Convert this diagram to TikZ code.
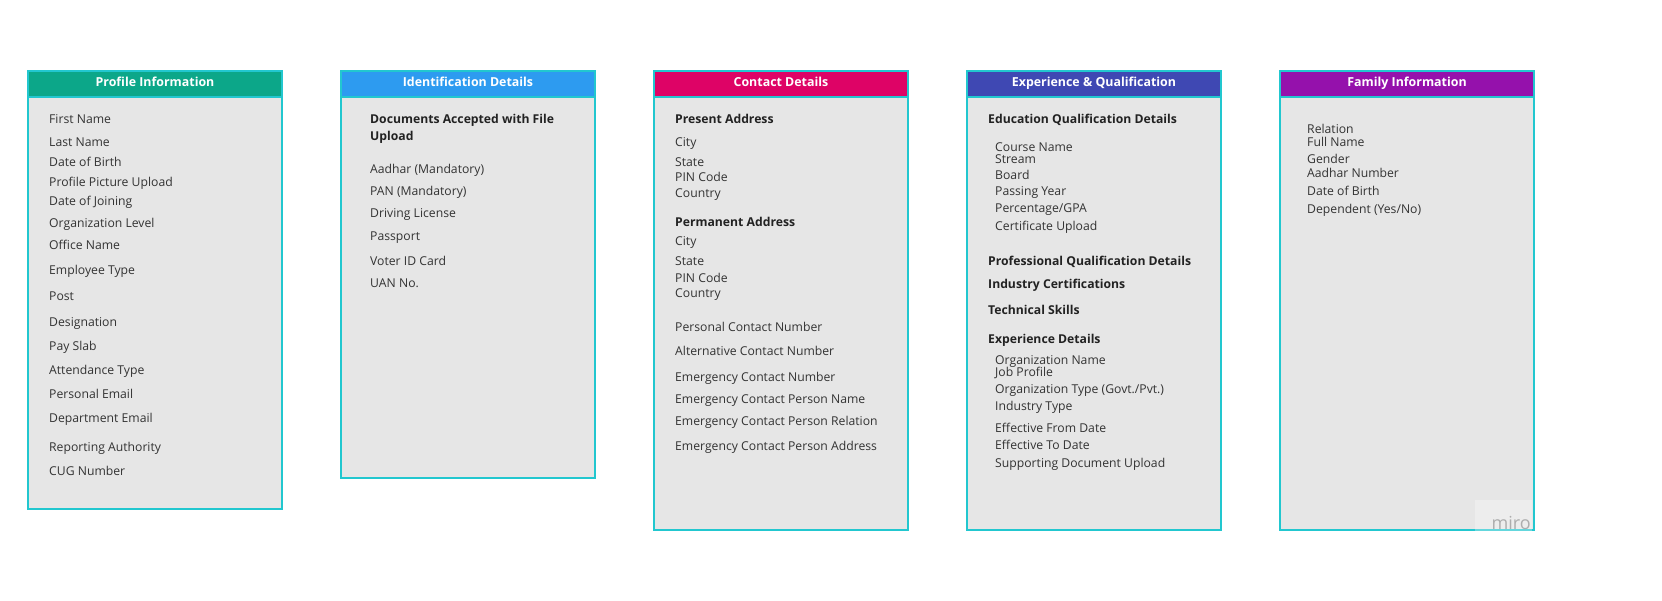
\documentclass[tikz,border=0pt]{standalone}
\usepackage{fontspec}
\setmainfont{Open Sans}
\definecolor{bordercol}{HTML}{22C7CF}
\definecolor{bodycol}{HTML}{E6E6E6}
\definecolor{hprofile}{HTML}{0CA789}
\definecolor{hident}{HTML}{2D9BF0}
\definecolor{hcontact}{HTML}{DE0366}
\definecolor{hexp}{HTML}{3F48B3}
\definecolor{hfamily}{HTML}{9511AC}
\definecolor{txt}{HTML}{333333}
\definecolor{txtb}{HTML}{222222}
\tikzset{
  panelbody/.style={draw=bordercol, line width=2.6pt, fill=bodycol},
  panelhead/.style={draw=bordercol, line width=2.6pt},
  headtext/.style={anchor=base, text=white, font=\fontsize{12.4}{14}\selectfont\bfseries, inner sep=0pt},
  item/.style={anchor=base west, text=txt, font=\fontsize{12.2}{14}\selectfont, inner sep=0pt},
  bitem/.style={anchor=base west, text=txtb, font=\fontsize{12.2}{14}\selectfont\bfseries, inner sep=0pt},
}
\newcommand{\mypanel}[6]{% name, x0, x1, ybottom, color, title
  \path[panelbody] (#2,97) rectangle (#3,#4);
  \path[panelhead, fill=#5] (#2,71) rectangle (#3,97);
  \node[headtext] (#1) at ({(#2+#3)/2},87) {#6};
}
\begin{document}
\begin{tikzpicture}[x=1pt,y=-1pt]
\useasboundingbox (0,0) rectangle (1662,601);
\fill[white] (0,0) rectangle (1662,601);

\mypanel{p1}{28}{282}{509}{hprofile}{Profile Information}
\mypanel{p2}{341}{595}{478}{hident}{Identification Details}
\mypanel{p3}{654}{908}{530}{hcontact}{Contact Details}
\mypanel{p4}{967}{1221}{530}{hexp}{Experience \& Qualification}
\mypanel{p5}{1280}{1534}{530}{hfamily}{Family Information}

\begin{scope}[yshift=-4.5pt]
% Profile
\node[item] (a1) at (49,119) {First Name};
\node[item] (a2) at (49,142) {Last Name};
\node[item] (a3) at (49,162) {Date of Birth};
\node[item] (a4) at (49,182) {Profile Picture Upload};
\node[item] (a5) at (49,201) {Date of Joining};
\node[item] (a6) at (49,223) {Organization Level};
\node[item] (a7) at (49,245) {Office Name};
\node[item] (a8) at (49,270) {Employee Type};
\node[item] (a9) at (49,296) {Post};
\node[item] (a10) at (49,322) {Designation};
\node[item] (a11) at (49,346) {Pay Slab};
\node[item] (a12) at (49,370) {Attendance Type};
\node[item] (a13) at (49,394) {Personal Email};
\node[item] (a14) at (49,418) {Department Email};
\node[item] (a15) at (49,447) {Reporting Authority};
\node[item] (a16) at (49,471) {CUG Number};

% Identification
\node[bitem] (b0) at (370,119) {Documents Accepted with File};
\node[bitem] (b0b) at (370,136) {Upload};
\node[item] (b1) at (370,169) {Aadhar (Mandatory)};
\node[item] (b2) at (370,191) {PAN (Mandatory)};
\node[item] (b3) at (370,213) {Driving License};
\node[item] (b4) at (370,236) {Passport};
\node[item] (b5) at (370,261) {Voter ID Card};
\node[item] (b6) at (370,283) {UAN No.};

% Contact
\node[bitem] (c0) at (675,119) {Present Address};
\node[item] (c1) at (675,142) {City};
\node[item] (c2) at (675,162) {State};
\node[item] (c3) at (675,177) {PIN Code};
\node[item] (c4) at (675,193) {Country};
\node[bitem] (c5) at (675,222) {Permanent Address};
\node[item] (c6) at (675,241) {City};
\node[item] (c7) at (675,261) {State};
\node[item] (c8) at (675,278) {PIN Code};
\node[item] (c9) at (675,293) {Country};
\node[item] (c10) at (675,327) {Personal Contact Number};
\node[item] (c11) at (675,351) {Alternative Contact Number};
\node[item] (c12) at (675,377) {Emergency Contact Number};
\node[item] (c13) at (675,399) {Emergency Contact Person Name};
\node[item] (c14) at (675,421) {Emergency Contact Person Relation};
\node[item] (c15) at (675,446) {Emergency Contact Person Address};

% Experience
\node[bitem] (d0) at (988,119) {Education Qualification Details};
\node[item] (d1) at (995,147) {Course Name};
\node[item] (d2) at (995,159) {Stream};
\node[item] (d3) at (995,175) {Board};
\node[item] (d4) at (995,191) {Passing Year};
\node[item] (d5) at (995,208) {Percentage/GPA};
\node[item] (d6) at (995,226) {Certificate Upload};
\node[bitem] (d7) at (988,261) {Professional Qualification Details};
\node[bitem] (d8) at (988,284) {Industry Certifications};
\node[bitem] (d9) at (988,310) {Technical Skills};
\node[bitem] (d10) at (988,339) {Experience Details};
\node[item] (d11) at (995,360) {Organization Name};
\node[item] (d12) at (995,372) {Job Profile};
\node[item] (d13) at (995,389) {Organization Type (Govt./Pvt.)};
\node[item] (d14) at (995,406) {Industry Type};
\node[item] (d15) at (995,428) {Effective From Date};
\node[item] (d16) at (995,445) {Effective To Date};
\node[item] (d17) at (995,463) {Supporting Document Upload};

% Family
\node[item] (e1) at (1307,129) {Relation};
\node[item] (e2) at (1307,142) {Full Name};
\node[item] (e3) at (1307,159) {Gender};
\node[item] (e4) at (1307,173) {Aadhar Number};
\node[item] (e5) at (1307,191) {Date of Birth};
\node[item] (e6) at (1307,209) {Dependent (Yes/No)};
\end{scope}

% watermark
\fill[white, opacity=0.3] (1475,500) rectangle (1532,531);
\node[anchor=base east, text=black!32, font=\fontsize{18}{20}\selectfont, inner sep=0pt] (wm) at (1531,529) {miro};
\end{tikzpicture}
\end{document}
